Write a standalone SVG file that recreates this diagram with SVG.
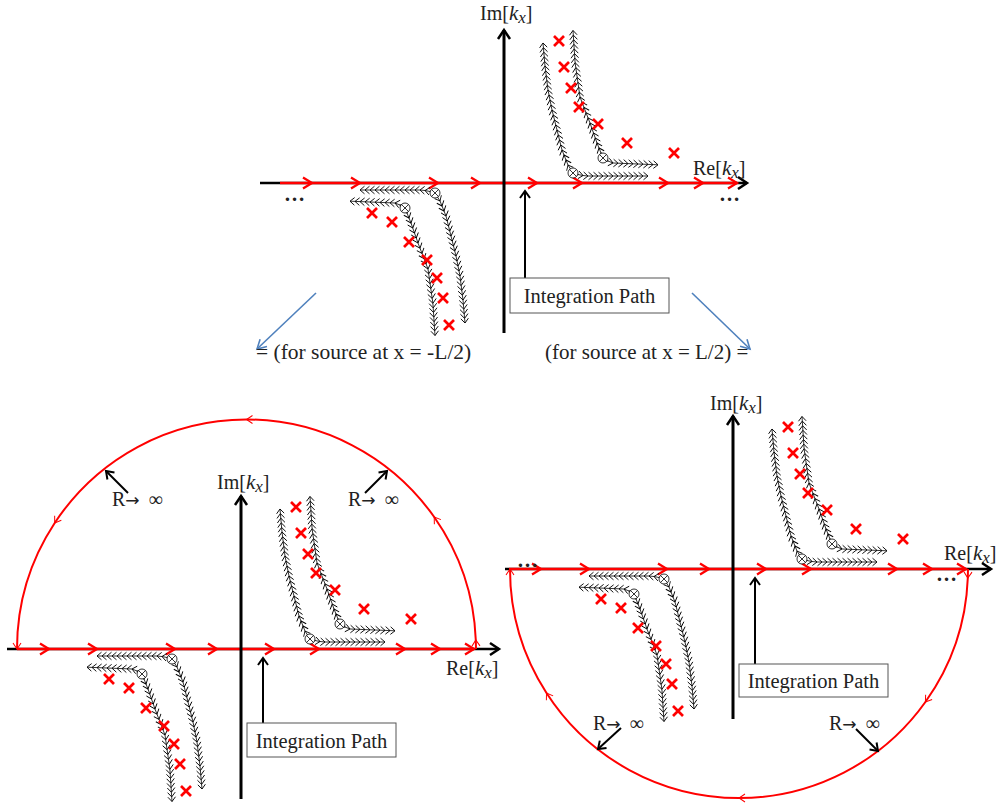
<svg xmlns="http://www.w3.org/2000/svg" width="1001" height="804" viewBox="0 0 1001 804" font-family="'Liberation Serif', 'Times New Roman', serif">
<defs>
<style>
.lbl{font-family:"Liberation Serif","Times New Roman",serif;fill:#222;}
.ar{font-family:"DejaVu Sans","Liberation Sans",sans-serif;font-size:17px;}
.dp{stroke:#000;stroke-width:0.8;fill:none;marker-mid:url(#chev);marker-end:url(#chev)}
.pole{stroke:#f00;stroke-width:2.7;fill:none}
.sad{stroke:#000;stroke-width:0.8;fill:#fff}
.redax{stroke:#f00;stroke-width:2.6;fill:none;marker-mid:url(#redArr);marker-end:url(#redArr)}
.arc{stroke:#f00;stroke-width:2;fill:none;marker-mid:url(#arcArr);marker-end:url(#arcArr)}
.bax{stroke:#000;stroke-width:2.5;fill:none;marker-end:url(#blkArr)}
.vax{stroke:#000;stroke-width:3;fill:none;marker-end:url(#blkArr)}
.sarr{stroke:#000;stroke-width:2;fill:none;marker-end:url(#blkArrS)}
.blue{stroke:#4f81bd;stroke-width:1.6;fill:none;marker-end:url(#blueArr)}
.box{fill:#fff;stroke:#555;stroke-width:1}
</style>
<marker id="chev" markerUnits="userSpaceOnUse" markerWidth="10" markerHeight="10" refX="0" refY="0" orient="auto" overflow="visible"><path d="M-4.5,-3.8 L0,0 L-4.5,3.8" fill="none" stroke="#000" stroke-width="0.9"/></marker>
<marker id="redArr" markerUnits="userSpaceOnUse" markerWidth="12" markerHeight="12" refX="0" refY="0" orient="auto" overflow="visible"><path d="M-9,-5.5 L0,0 L-9,5.5" fill="none" stroke="#f00" stroke-width="2.3"/></marker>
<marker id="arcArr" markerUnits="userSpaceOnUse" markerWidth="10" markerHeight="10" refX="0" refY="0" orient="auto" overflow="visible"><path d="M-6,-4 L0,0 L-6,4" fill="none" stroke="#f00" stroke-width="1"/></marker>
<marker id="blkArr" markerUnits="userSpaceOnUse" markerWidth="14" markerHeight="14" refX="0" refY="0" orient="auto" overflow="visible"><path d="M-9,-6 L0,0 L-9,6" fill="none" stroke="#000" stroke-width="2.5"/></marker>
<marker id="blkArrS" markerUnits="userSpaceOnUse" markerWidth="12" markerHeight="12" refX="0" refY="0" orient="auto" overflow="visible"><path d="M-7,-5 L0,0 L-7,5" fill="none" stroke="#000" stroke-width="2"/></marker>
<marker id="blueArr" markerUnits="userSpaceOnUse" markerWidth="12" markerHeight="12" refX="0" refY="0" orient="auto" overflow="visible"><path d="M-9,-5 L0,0 L-9,5" fill="none" stroke="#4f81bd" stroke-width="1.6"/></marker>
<g id="sad"><circle class="sad" cx="0" cy="0" r="5"/><path d="M-3.5,-3.5 L3.5,3.5 M3.5,-3.5 L-3.5,3.5" stroke="#000" stroke-width="0.8"/></g>
<path id="xm" class="pole" d="M-5,-5 L5,5 M5,-5 L-5,5"/>
<g id="ur">
<path class="dp" d="M69,-10 l-2.5,-4 l-2.5,-4 l-2,-5 l-2,-5 l-2,-5 l-1.25,-5 l-1.25,-5 l-1.25,-5 l-1.25,-5 l-1.25,-5 l-1.25,-5 l-1.25,-5 l-1.25,-5 l-1,-5 l-1,-5 l-1,-5 l-1,-5 l-0.6,-4.8 l-0.6,-4.8 l-0.6,-4.8 l-0.6,-4.8 l-0.6,-4.8 l-0.4,-4.6 l-0.4,-4.6 l-0.4,-4.6 l-0.4,-4.6 l-0.4,-4.6"/>
<path class="dp" d="M69,-10 l5,1.5 l5,1 l5,0.5 l5,0 l5,0 l5,0 l5,0 l5,0 l5,0 l5,0 l5,0 l5,0 l5,0 l5,0 l5,0"/>
<path class="dp" d="M99,-25 l-2,-5 l-2,-5 l-2,-5 l-1.75,-5 l-1.75,-5 l-1.75,-5 l-1.75,-5 l-2,-5.2 l-2,-5.2 l-2,-5.2 l-2,-5.2 l-2,-5.2 l-0.7,-4.9 l-0.7,-4.9 l-0.7,-4.9 l-0.7,-4.9 l-0.7,-4.9 l-0.7,-4.9 l-0.7,-4.9 l-0.3,-4.6 l-0.3,-4.6 l-0.3,-4.6 l-0.3,-4.6 l-0.3,-4.6 l-0.3,-4.6 l-0.3,-4.6"/>
<path class="dp" d="M99,-25 l5,3 l5,2 l5,0.2 l5,0.2 l5,0.2 l5,0.2 l5,0.2 l5,0.2 l5,0.2 l5,0.2 l5,0.2"/>
<use href="#sad" x="69" y="-10"/>
<use href="#sad" x="99" y="-25"/>
</g>
<g id="core">
<path class="redax" d="M-224,0 L-192,0 L-144,0 L-66,0 L-24,0 L33,0 L78,0 L164,0 L199,0 L233,0"/>
<use href="#ur"/>
<use href="#ur" transform="rotate(180)"/>
<g id="polesUR">
<use href="#xm" x="55" y="-142"/><use href="#xm" x="60" y="-116"/><use href="#xm" x="67" y="-95"/><use href="#xm" x="75" y="-76"/><use href="#xm" x="94" y="-59"/><use href="#xm" x="123" y="-40"/><use href="#xm" x="170" y="-30"/>
</g>
<g id="polesLL">
<use href="#xm" x="-132" y="30"/><use href="#xm" x="-112" y="39"/><use href="#xm" x="-95" y="59"/><use href="#xm" x="-77" y="77"/><use href="#xm" x="-67" y="95"/><use href="#xm" x="-61" y="115"/><use href="#xm" x="-55" y="142"/>
</g>
<path class="vax" d="M0,150 L0,-153"/>
</g>
</defs>

<!-- Panel 1 (top) -->
<g id="panel-top">
<path class="bax" d="M260,183 L747,183"/>
<use href="#core" transform="translate(504,183)"/>
<text class="lbl" x="480" y="20" font-size="20">Im[<tspan font-style="italic" font-size="21">k</tspan><tspan font-style="italic" font-size="17" dy="3">x</tspan><tspan dy="-3">]</tspan></text>
<text class="lbl" x="693" y="175" font-size="20">Re[<tspan font-style="italic" font-size="21">k</tspan><tspan font-style="italic" font-size="17" dy="3">x</tspan><tspan dy="-3">]</tspan></text>
<text class="lbl" x="284" y="201" font-size="21" font-weight="bold">…</text>
<text class="lbl" x="719" y="201" font-size="21" font-weight="bold">…</text>
<g id="ip-top">
<path class="sarr" d="M525,278 L525,191"/>
<rect class="box" x="510" y="278" width="159" height="35"/>
<text class="lbl" x="589.5" y="303" font-size="20.5" text-anchor="middle">Integration Path</text>
</g>
</g>

<g id="connectors">
<path class="blue" d="M316,293 L257,349"/>
<path class="blue" d="M692,293 L750,349"/>
</g>
<text class="lbl" x="256" y="359" font-size="21.5">= (for source at x = -L/2)</text>
<text class="lbl" x="545" y="359" font-size="21">(for source at x = L/2) =</text>

<!-- Panel 2 (bottom left) -->
<g id="panel-left">
<path class="bax" d="M7,649 L499,649"/>
<path class="arc" d="M476,649 L475.8,640 A229.5,229.5 0 0 0 434.2,517 A229.5,229.5 0 0 0 246.5,419.5 A229.5,229.5 0 0 0 54.7,523 A229.5,229.5 0 0 0 17,649"/>
<use href="#core" transform="translate(241,649)"/>
<text class="lbl" x="217" y="489" font-size="20">Im[<tspan font-style="italic" font-size="21">k</tspan><tspan font-style="italic" font-size="17" dy="3">x</tspan><tspan dy="-3">]</tspan></text>
<text class="lbl" x="446" y="675" font-size="20">Re[<tspan font-style="italic" font-size="21">k</tspan><tspan font-style="italic" font-size="17" dy="3">x</tspan><tspan dy="-3">]</tspan></text>
<path class="sarr" d="M128,493 L106,471"/>
<path class="sarr" d="M365,493 L387,471"/>
<text class="lbl" x="112" y="506" font-size="20">R<tspan class="ar">→</tspan> <tspan dx="4">∞</tspan></text>
<text class="lbl" x="348" y="506" font-size="20">R<tspan class="ar">→</tspan> <tspan dx="4">∞</tspan></text>
<g id="ip-left">
<path class="sarr" d="M263,723 L263,658"/>
<rect class="box" x="247" y="723" width="149" height="34"/>
<text class="lbl" x="321.5" y="748" font-size="20.5" text-anchor="middle">Integration Path</text>
</g>
</g>

<!-- Panel 3 (bottom right) -->
<g id="panel-right">
<path class="bax" d="M505,569 L991,569"/>
<path class="arc" d="M968,569 L967.8,578 A229,229 0 0 1 925.4,702 A229,229 0 0 1 739,798 A229,229 0 0 1 546.5,693 A229,229 0 0 1 510,569"/>
<use href="#core" transform="translate(733,569)"/>
<text class="lbl" x="710" y="410" font-size="20">Im[<tspan font-style="italic" font-size="21">k</tspan><tspan font-style="italic" font-size="17" dy="3">x</tspan><tspan dy="-3">]</tspan></text>
<text class="lbl" x="944" y="560" font-size="20">Re[<tspan font-style="italic" font-size="21">k</tspan><tspan font-style="italic" font-size="17" dy="3">x</tspan><tspan dy="-3">]</tspan></text>
<text class="lbl" x="517" y="567" font-size="21" font-weight="bold">…</text>
<text class="lbl" x="936" y="581" font-size="21" font-weight="bold">…</text>
<path class="sarr" d="M621,728 L598,749"/>
<path class="sarr" d="M856,729 L878,751"/>
<text class="lbl" x="593" y="730" font-size="20">R<tspan class="ar">→</tspan> <tspan dx="4">∞</tspan></text>
<text class="lbl" x="829" y="730" font-size="20">R<tspan class="ar">→</tspan> <tspan dx="4">∞</tspan></text>
<g id="ip-right">
<path class="sarr" d="M755,664 L755,578"/>
<rect class="box" x="739" y="664" width="149" height="33"/>
<text class="lbl" x="813.5" y="688" font-size="20.5" text-anchor="middle">Integration Path</text>
</g>
</g>
</svg>
